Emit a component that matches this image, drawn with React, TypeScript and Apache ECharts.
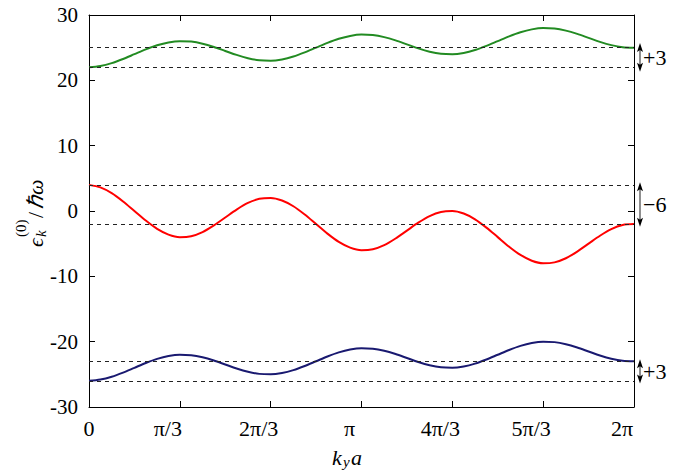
import React, { useEffect, useRef } from 'react';
import * as echarts from 'echarts';

// k_y a in units of pi/24
const kSteps = [0, 1, 2, 3, 4, 5, 6, 7, 8, 9, 10, 11, 12, 13, 14, 15, 16, 17, 18, 19, 20, 21, 22, 23, 24, 25, 26, 27, 28, 29, 30, 31, 32, 33, 34, 35, 36, 37, 38, 39, 40, 41, 42, 43, 44, 45, 46, 47, 48];
const xTickLabels = ['0', 'π/3', '2π/3', 'π', '4π/3', '5π/3', '2π'];

const upperBand = [
  22.00, 22.20, 22.64, 23.27, 24.00, 24.73, 25.36, 25.80, 26.00, 25.93, 25.61, 25.11, 24.50, 23.89, 23.39, 23.07,
  23.00, 23.20, 23.64, 24.27, 25.00, 25.73, 26.36, 26.80, 27.00, 26.93, 26.61, 26.11, 25.50, 24.89, 24.39, 24.07,
  24.00, 24.20, 24.64, 25.27, 26.00, 26.73, 27.36, 27.80, 28.00, 27.93, 27.61, 27.11, 26.50, 25.89, 25.39, 25.07,
  25.00,
];
const middleBand = [
  4.00, 3.61, 2.73, 1.46, 0.00, -1.46, -2.73, -3.61, -4.00, -3.86, -3.23, -2.21, -1.00, 0.21, 1.23, 1.86,
  2.00, 1.61, 0.73, -0.54, -2.00, -3.46, -4.73, -5.61, -6.00, -5.86, -5.23, -4.21, -3.00, -1.79, -0.77, -0.14,
  0.00, -0.39, -1.27, -2.54, -4.00, -5.46, -6.73, -7.61, -8.00, -7.86, -7.23, -6.21, -5.00, -3.79, -2.77, -2.14,
  -2.00,
];
const lowerBand = [
  -26.00, -25.80, -25.36, -24.73, -24.00, -23.27, -22.64, -22.20, -22.00, -22.07, -22.39, -22.89, -23.50, -24.11, -24.61, -24.93,
  -25.00, -24.80, -24.36, -23.73, -23.00, -22.27, -21.64, -21.20, -21.00, -21.07, -21.39, -21.89, -22.50, -23.11, -23.61, -23.93,
  -24.00, -23.80, -23.36, -22.73, -22.00, -21.27, -20.64, -20.20, -20.00, -20.07, -20.39, -20.89, -21.50, -22.11, -22.61, -22.93,
  -23.00,
];

const upperRefs = [25, 22];
const middleRefs = [4, -2];
const lowerRefs = [-23, -26];

const shiftLabels = ['+3', '−6', '+3'];
const arrowSpans = [
  [25.7, 21.3],
  [4.4, -2.4],
  [-22.7, -26.4],
];

const FONT = 'Liberation Serif';
const colors = ['#228B22', '#FF0000', '#191970'];

function refLines(vals: number[]) {
  return {
    silent: true,
    symbol: ['none', 'none'],
    label: { show: false },
    lineStyle: { type: [4, 4], color: '#222', width: 1 },
    data: vals.map((v) => ({ yAxis: v })),
  };
}

export default function App() {
  const ref = useRef<HTMLDivElement>(null);
  useEffect(() => {
    if (!ref.current) return;
    const chart = echarts.init(ref.current, null, { renderer: 'svg' });
    const xAxisBase = {
      type: 'value',
      min: 0,
      max: 48,
      interval: 8,
      splitLine: { show: false },
      axisLine: { show: true, onZero: false, lineStyle: { color: '#000', width: 1 } },
      axisTick: { show: true, inside: true, length: 6, lineStyle: { color: '#000' } },
    };
    const yAxisBase = {
      type: 'value',
      min: -30,
      max: 30,
      interval: 10,
      splitLine: { show: false },
      axisLine: { show: true, onZero: false, lineStyle: { color: '#000', width: 1 } },
      axisTick: { show: true, inside: true, length: 6, lineStyle: { color: '#000' } },
    };
    const mk = (vals: number[]) => kSteps.map((k, i) => [k, vals[i]]);
    chart.setOption({
      animation: false,
      textStyle: { fontFamily: FONT },
      grid: { left: 89, right: 54, top: 15, bottom: 64, containLabel: false },
      xAxis: [
        {
          ...xAxisBase,
          position: 'bottom',
          axisLabel: {
            show: true,
            margin: 10,
            color: '#000',
            fontSize: 22,
            fontFamily: FONT,
            formatter: (v: number) => {
              const i = Math.round(v / 8);
              const s = xTickLabels[i] ?? '';
              return i === 0 ? s : `{s|${s}}`;
            },
            rich: {
              s: { padding: [0, 24, 0, 0], fontSize: 22, fontFamily: FONT, color: '#000' },
            },
          },
        },
        { ...xAxisBase, position: 'top', axisLabel: { show: false } },
      ],
      yAxis: [
        {
          ...yAxisBase,
          position: 'left',
          axisLabel: { show: true, margin: 11, color: '#000', fontSize: 21, fontFamily: FONT },
        },
        { ...yAxisBase, position: 'right', axisLabel: { show: false } },
      ],
      series: [
        {
          type: 'line', data: mk(upperBand), smooth: 0.3, showSymbol: false,
          lineStyle: { color: colors[0], width: 2 }, itemStyle: { color: colors[0] },
          markLine: refLines(upperRefs), z: 3,
        },
        {
          type: 'line', data: mk(middleBand), smooth: 0.3, showSymbol: false,
          lineStyle: { color: colors[1], width: 2 }, itemStyle: { color: colors[1] },
          markLine: refLines(middleRefs), z: 3,
        },
        {
          type: 'line', data: mk(lowerBand), smooth: 0.3, showSymbol: false,
          lineStyle: { color: colors[2], width: 2 }, itemStyle: { color: colors[2] },
          markLine: refLines(lowerRefs), z: 3,
        },
      ],
    });

    const ax = 640;
    const graphics: any[] = [];
    arrowSpans.forEach(([a, b], i) => {
      const y1 = chart.convertToPixel({ yAxisIndex: 0 }, a) as number;
      const y2 = chart.convertToPixel({ yAxisIndex: 0 }, b) as number;
      graphics.push({
        type: 'line',
        shape: { x1: ax, y1: y1 + 6, x2: ax, y2: y2 - 6 },
        style: { stroke: '#444', lineWidth: 1.2 },
      });
      graphics.push({
        type: 'polygon',
        shape: { points: [[ax, y1], [ax - 3, y1 + 9], [ax, y1 + 7], [ax + 3, y1 + 9]] },
        style: { fill: '#000' },
      });
      graphics.push({
        type: 'polygon',
        shape: { points: [[ax, y2], [ax - 3, y2 - 9], [ax, y2 - 7], [ax + 3, y2 - 9]] },
        style: { fill: '#000' },
      });
      graphics.push({
        type: 'text',
        x: 643,
        y: (y1 + y2) / 2,
        style: {
          text: shiftLabels[i],
          fontSize: 22,
          fontFamily: FONT,
          fill: '#000',
          align: 'left',
          verticalAlign: 'middle',
        },
      });
    });

    // y-axis name: ϵ_k^(0) / ħω (rotated)
    graphics.push({
      type: 'group',
      x: 35,
      y: 208,
      rotation: Math.PI / 2,
      children: [
        { type: 'text', x: -39, y: 0, style: { text: 'ϵ', fontSize: 22, fontStyle: 'italic', fontFamily: FONT, fill: '#000', align: 'left', verticalAlign: 'middle' } },
        { type: 'text', x: -29, y: 6, style: { text: 'k', fontSize: 15, fontStyle: 'italic', fontFamily: FONT, fill: '#000', align: 'left', verticalAlign: 'middle' } },
        { type: 'text', x: -29, y: -14, style: { text: '(0)', fontSize: 15, fontFamily: FONT, fill: '#000', align: 'left', verticalAlign: 'middle' } },
        { type: 'text', x: -10, y: 0, style: { text: '/', fontSize: 22, fontFamily: FONT, fill: '#000', align: 'left', verticalAlign: 'middle' } },
        { type: 'text', x: -1, y: 0, style: { text: 'ℏω', fontSize: 22, fontStyle: 'italic', fontFamily: FONT, fill: '#000', align: 'left', verticalAlign: 'middle' } },
      ],
    });

    // x-axis name: k_y a
    graphics.push({
      type: 'group',
      x: 332,
      y: 457,
      children: [
        { type: 'text', x: 0, y: 0, style: { text: 'k', fontSize: 22, fontStyle: 'italic', fontFamily: FONT, fill: '#000', align: 'left', verticalAlign: 'middle' } },
        { type: 'text', x: 11, y: 5, style: { text: 'y', fontSize: 15, fontStyle: 'italic', fontFamily: FONT, fill: '#000', align: 'left', verticalAlign: 'middle' } },
        { type: 'text', x: 19, y: 0, style: { text: 'a', fontSize: 22, fontStyle: 'italic', fontFamily: FONT, fill: '#000', align: 'left', verticalAlign: 'middle' } },
      ],
    });

    chart.setOption({ graphic: graphics });
    return () => chart.dispose();
  }, []);
  return <div ref={ref} style={{ position: 'absolute', left: 0, top: 0, width: 688, height: 471 }} />;
}
